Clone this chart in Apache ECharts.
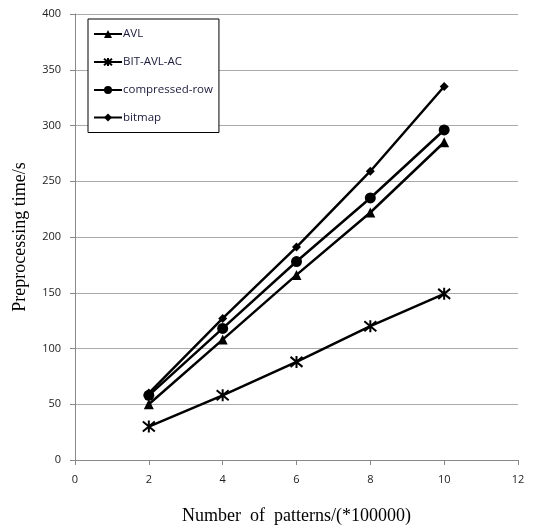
<!DOCTYPE html>
<html><head><meta charset="utf-8">
<script src="https://cdn.jsdelivr.net/npm/echarts@6/dist/echarts.min.js"></script>
<style>html,body{margin:0;padding:0;background:#fff}#c{width:550px;height:530px}</style>
</head><body><div id="c"></div>
<script>
const xValues = [2, 4, 6, 8, 10];
const avl = [50, 108, 166, 222, 285];
const bitAvlAc = [30, 58, 88, 120, 149];
const compressedRow = [58, 118, 178, 235, 296];
const bitmap = [60, 127, 191, 259, 335];
const seriesNames = ['AVL', 'BIT-AVL-AC', 'compressed-row', 'bitmap'];

const asterisk = 'path://M0,0L10,10M10,0L0,10M5,-1L5,11';
function pts(arr){ return xValues.map((x,i)=>[x, arr[i]]); }
function mk(name, data, symbol, size, extra){
  return Object.assign({
    name, type:'line', data: pts(data), symbol, symbolSize:size,
    showAllSymbol:true,
    lineStyle:{color:'#000', width:2.5},
    itemStyle:{color:'#000'},
    emphasis:{disabled:true}, animation:false
  }, extra||{});
}
const chart = echarts.init(document.getElementById('c'), null, {renderer:'canvas'});
const axisLabelFont = {fontFamily:'Open Sans, DejaVu Sans, sans-serif', fontSize:11, color:'#222'};
chart.setOption({
  animation:false,
  grid:{left:75, right:32, top:14, bottom:70, containLabel:false},
  legend:{
    orient:'vertical', left:88, top:19,
    data: seriesNames,
    backgroundColor:'#fff', borderColor:'#000', borderWidth:1,
    padding:[9,6,9,5], itemGap:15.5, itemWidth:28, itemHeight:10,
    textStyle:{fontFamily:'Open Sans, DejaVu Sans, sans-serif', fontSize:11.5, color:'#1a1a3a', padding:[0,0,0,-4]}
  },
  xAxis:{
    type:'value', min:0, max:12, interval:2,
    name:'Number  of  patterns/(*100000)', nameLocation:'middle', nameGap:47,
    nameTextStyle:{fontFamily:'Liberation Serif, Times New Roman, serif', fontSize:18, color:'#000'},
    axisLine:{lineStyle:{color:'#888', width:1}},
    axisTick:{show:true, length:5, lineStyle:{color:'#888'}},
    axisLabel:Object.assign({margin:14}, axisLabelFont),
    splitLine:{show:false}
  },
  yAxis:{
    type:'value', min:0, max:400, interval:50,
    name:'Preprocessing time/s', nameLocation:'middle', nameGap:46,
    nameTextStyle:{fontFamily:'Liberation Serif, Times New Roman, serif', fontSize:18, color:'#000'},
    axisLine:{show:true, lineStyle:{color:'#888', width:1}},
    axisTick:{show:true, length:5, lineStyle:{color:'#888'}},
    axisLabel:Object.assign({margin:14}, axisLabelFont),
    splitLine:{show:true, lineStyle:{color:'#aaa', width:1}}
  },
  series:[
    mk('AVL', avl, 'triangle', 10),
    mk('BIT-AVL-AC', bitAvlAc, asterisk, 12, {itemStyle:{color:'none', borderColor:'#000', borderWidth:2}}),
    mk('compressed-row', compressedRow, 'circle', 11),
    mk('bitmap', bitmap, 'diamond', 9)
  ]
});
</script></body></html>
